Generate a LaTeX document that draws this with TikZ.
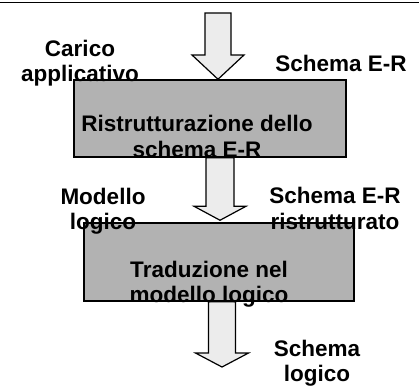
\documentclass[tikz,border=0pt]{standalone}
\usepackage{fontspec}
\setmainfont{Liberation Sans}
\usetikzlibrary{positioning}
\definecolor{boxgray}{RGB}{178,178,178}
\definecolor{arrgray}{RGB}{236,236,236}

\begin{document}
\begin{tikzpicture}[x=1pt, y=-1pt,
        box/.style={draw, line width=1.5pt, fill=boxgray, inner sep=0pt},
        txt/.style={font=\bfseries\fontsize{22.5}{25.5}\selectfont, align=center,
          inner sep=0pt},
        blockarr/.style={draw, line width=1.2pt, fill=arrgray, line join=miter}]
        \useasboundingbox (0,0) rectangle (419,389);
        \draw[line width=1.5pt] (0,2.5) -- (419,2.5);
        % boxes
        \node (ristr) at (210,118.5) [box, minimum width=272, minimum height=77] {};
        \node (trad) at (219,262) [box, minimum width=270, minimum height=78] {};
        % block arrows
        \coordinate (in) at (218,13);
        \coordinate (out) at (222,367);
        \draw[blockarr] ([xshift=-13pt]in) -- ([xshift=13pt]in)
          -- ([xshift=13pt,yshift=-42pt]in) -- ([xshift=26pt,yshift=-42pt]in)
          -- (ristr.north -| in) -- ([xshift=-26pt,yshift=-42pt]in)
          -- ([xshift=-13pt,yshift=-42pt]in) -- cycle;
        \draw[blockarr] ([xshift=-14pt]ristr.south -| 220,0) -- ([xshift=14pt]ristr.south -| 220,0)
          -- ([xshift=14pt,yshift=16pt]trad.north -| 220,0)
          -- ([xshift=26pt,yshift=16pt]trad.north -| 220,0)
          -- ([yshift=2pt]trad.north -| 220,0)
          -- ([xshift=-26pt,yshift=16pt]trad.north -| 220,0)
          -- ([xshift=-14pt,yshift=16pt]trad.north -| 220,0) -- cycle;
        \draw[blockarr] ([xshift=-13.5pt]trad.south -| out) -- ([xshift=13.5pt]trad.south -| out)
          -- ([xshift=13.5pt,yshift=14pt]out) -- ([xshift=26.5pt,yshift=14pt]out)
          -- (out) -- ([xshift=-26.5pt,yshift=14pt]out)
          -- ([xshift=-13.5pt,yshift=14pt]out) -- cycle;
        % texts
        \node (ristrt) at ([xshift=-13pt,yshift=-18pt]ristr.center) [txt] {Ristrutturazione dello\\schema E-R};
        \node (tradt) at ([xshift=-10pt,yshift=-22pt]trad.center) [txt] {Traduzione nel\\modello logico};
        \node (carico) at (80,63) [txt] {Carico\\applicativo};
        \node (er) at (341,63) [txt] {Schema E-R};
        \node (modello) at (103,211) [txt] {Modello\\logico};
        \node (erristr) at (335,208.5) [txt] {Schema E-R\\ristrutturato};
        \node (logico) at (317,363) [txt] {Schema\\logico};
\end{tikzpicture}
\end{document}
